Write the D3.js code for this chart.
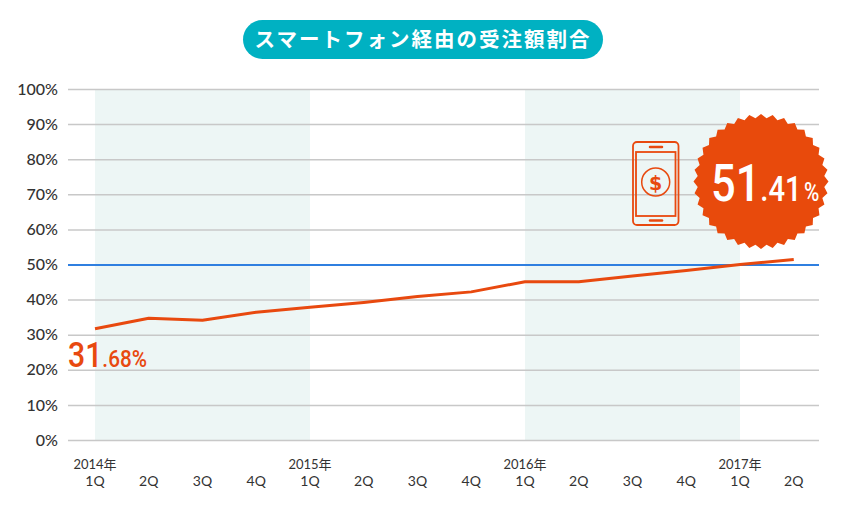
<!DOCTYPE html>
<html><head><meta charset="utf-8">
<script src="https://cdn.jsdelivr.net/npm/d3@7"></script>
<style>
html,body{margin:0;padding:0;background:#fff;}
svg{display:block;}
</style>
</head><body>
<svg id="chart" width="848" height="510"></svg>
<script>
const title = "スマートフォン経由の受注額割合";
const categories = ["2014-1Q","2014-2Q","2014-3Q","2014-4Q","2015-1Q","2015-2Q","2015-3Q","2015-4Q","2016-1Q","2016-2Q","2016-3Q","2016-4Q","2017-1Q","2017-2Q"];
const quarterLabels = ["1Q","2Q","3Q","4Q","1Q","2Q","3Q","4Q","1Q","2Q","3Q","4Q","1Q","2Q"];
const yearLabels = ["2014年","","","","2015年","","","","2016年","","","","2017年",""];
const shareValues = [31.68,34.7,34.1,36.4,37.8,39.2,40.9,42.2,45.1,45.1,46.7,48.3,50.0,51.41];
const yTicks = [0,10,20,30,40,50,60,70,80,90,100];
const shadedYears = [["2014-1Q","2015-1Q"],["2016-1Q","2017-1Q"]];
const referenceValue = 50;
const firstLabel = ["31", ".68%"];
const lastLabel = ["51", ".41", "%"];

(function(){
const svg = d3.select("#chart");
const pLeft = 68, pRight = 819, pTop = 89, pBottom = 440;
const orange = "#e8490f";

const x = d3.scalePoint().domain(categories).range([95, 793.75]);
const y = d3.scaleLinear().domain([0,100]).range([pBottom, pTop]);

// title pill
svg.append("rect").attr("x",243).attr("y",20).attr("width",360).attr("height",39)
  .attr("rx",19.5).attr("fill","#00b1c2");
svg.append("text").attr("x",423).attr("y",47).attr("text-anchor","middle")
  .attr("font-family","'Noto Sans CJK JP', sans-serif").attr("font-weight",700)
  .attr("font-size",20.5).attr("fill","#fff").attr("letter-spacing",2)
  .text(title);

// shaded bands
svg.append("g").selectAll("rect").data(shadedYears).join("rect")
  .attr("x",d=>x(d[0])).attr("width",d=>x(d[1])-x(d[0]))
  .attr("y",pTop).attr("height",pBottom-pTop).attr("fill","#edf6f5");

// y axis with gridlines
const yAxis = d3.axisLeft(y).tickValues(yTicks).tickFormat(d=>d+"%")
  .tickSize(-(pRight-pLeft)).tickPadding(10);
const gy = svg.append("g").attr("transform",`translate(${pLeft},0)`).call(yAxis);
gy.select(".domain").remove();
gy.selectAll(".tick line").attr("stroke","#c8c8c8").attr("stroke-width",1.5);
gy.selectAll(".tick text").attr("font-family","Lato, sans-serif").attr("font-size",16)
  .attr("font-weight",500).attr("fill","#333").attr("x",-10);
gy.selectAll(".tick").filter(d=>d===referenceValue).select("line")
  .attr("stroke","#2f7fe0").attr("stroke-width",2);

// x labels
const gx = svg.append("g");
gx.selectAll("text.q").data(categories).join("text").attr("class","q")
  .attr("x",d=>x(d)).attr("y",486).attr("text-anchor","middle")
  .attr("font-family","Lato, sans-serif").attr("font-size",14).attr("fill","#333")
  .text((d,i)=>quarterLabels[i]);
gx.selectAll("text.yr").data(categories).join("text").attr("class","yr")
  .attr("x",d=>x(d)).attr("y",469).attr("text-anchor","middle")
  .attr("font-family","Lato, 'Noto Sans CJK JP', sans-serif").attr("font-size",13).attr("fill","#333")
  .text((d,i)=>yearLabels[i]);

// line
const line = d3.line().x((d,i)=>x(categories[i])).y(d=>y(d));
svg.append("path").datum(shareValues).attr("d",line).attr("fill","none")
  .attr("stroke",orange).attr("stroke-width",3).attr("stroke-linejoin","round");

// helper: condensed text fitted to a width
const numFont = "Roboto, sans-serif";
function fitted(parent, x0, y0, targetW, parts, fill){
  const g = parent.append("g");
  const t = g.append("text").attr("font-family",numFont).attr("font-weight",500).attr("fill",fill);
  parts.forEach(p=>{ const s = t.append("tspan").attr("font-size",p[1]).text(p[0]); if(p[2]) s.attr("dx",p[2]); });
  const w = t.node().getComputedTextLength();
  g.attr("transform",`translate(${x0},${y0}) scale(${targetW/w},1)`);
  return g;
}
fitted(svg, 68, 367, 79, [[firstLabel[0],35],[firstLabel[1],24]], orange);

// phone icon
const ph = svg.append("g").attr("fill","none").attr("stroke",orange).attr("stroke-width",1.8);
ph.append("rect").attr("x",633).attr("y",142).attr("width",45.5).attr("height",83).attr("rx",4);
ph.append("rect").attr("x",636).attr("y",152).attr("width",39.5).attr("height",64);
ph.append("line").attr("x1",650).attr("x2",662).attr("y1",147).attr("y2",147).attr("stroke-width",2.5).attr("stroke-linecap","round");
ph.append("line").attr("x1",650).attr("x2",662).attr("y1",220.5).attr("y2",220.5).attr("stroke-width",2.5).attr("stroke-linecap","round");
ph.append("circle").attr("cx",655.7).attr("cy",182).attr("r",14).attr("stroke-width",1.5);
svg.append("text").attr("x",655.7).attr("y",189.5).attr("text-anchor","middle")
  .attr("font-family","'DejaVu Sans', sans-serif").attr("font-weight",700).attr("font-size",19).attr("fill",orange).text("$");

// starburst badge
const cx = 761, cy = 181.5, teeth = 36, rOut = 67.5, rIn = 63.5;
const burstPts = d3.range(teeth*2).map(i=>[ (i/(teeth*2))*2*Math.PI, i%2===0 ? rOut : rIn ]);
svg.append("path").attr("transform",`translate(${cx},${cy})`)
  .attr("d", d3.lineRadial().curve(d3.curveLinearClosed)(burstPts)).attr("fill","#e84a0c");
fitted(svg, 711, 200.5, 106, [[lastLabel[0],52],[lastLabel[1],35],[lastLabel[2],25,3]], "#fff");
})();
</script>
</body></html>
